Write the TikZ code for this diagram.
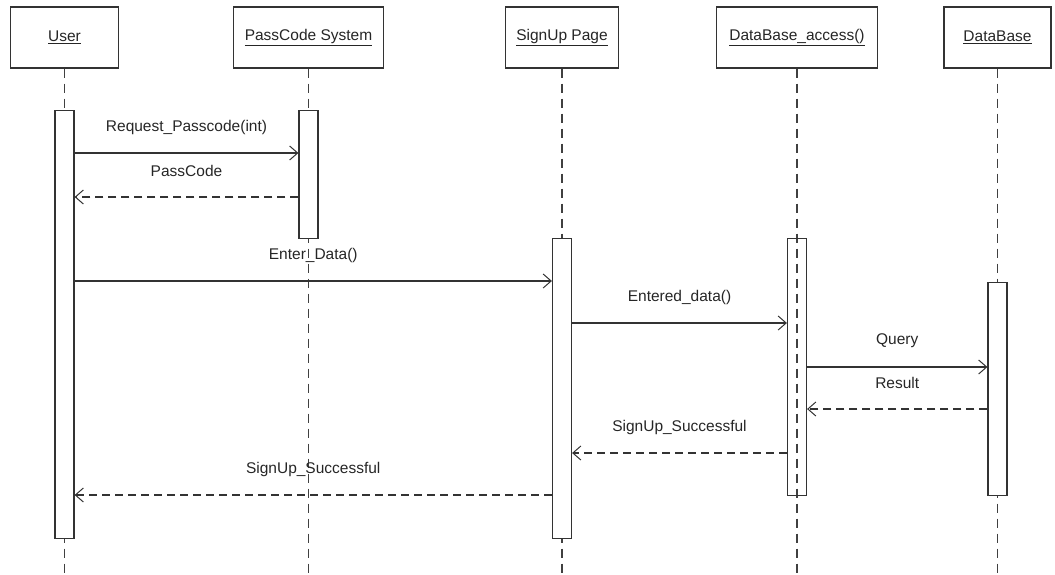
\documentclass[tikz,border=0pt]{standalone}
\usepackage{fontspec}
\setmainfont{Liberation Sans}
\usetikzlibrary{arrows.meta}
\begin{document}
\begin{tikzpicture}[x=1pt,y=-1pt,
  every node/.style={font=\fontsize{15.5}{18}\selectfont, text=black!85},
  obj/.style={draw=black!80, line width=1.3pt, fill=white, minimum height=61pt, inner sep=0pt},
  lifeline/.style={draw=black!75, line width=1.3pt, dash pattern=on 9pt off 6pt},
  act/.style={draw=black!80, line width=1.2pt, fill=white, minimum width=19pt, inner sep=0pt, anchor=north},
  call/.style={draw=black!80, line width=1.2pt, -{Straight Barb[length=8pt,width=14pt,line width=1pt]}},
  reply/.style={call, dash pattern=on 8pt off 5pt},
  lbl/.style={midway, yshift=26pt}
]
\useasboundingbox (0,0) rectangle (1055,574);

% object headers
\node[obj, minimum width=108pt] (user) at (64.5,37.5) {\underline{User}};
\node[obj, minimum width=150pt] (pass) at (308.5,37.5) {\underline{PassCode System}};
\node[obj, minimum width=113pt] (sign) at (562,37.5) {\underline{SignUp Page}};
\node[obj, minimum width=161pt] (dba) at (797,37.5) {\underline{DataBase\_access()}};
\node[obj, minimum width=107pt] (db) at (997.5,37.5) {\underline{DataBase}};

% lifelines
\foreach \o in {user,pass,sign,dba,db}{
  \coordinate (\o End) at (\o.south |- 0,574);
  \draw[lifeline] (\o.south) -- (\o End);
}

% activation bars
\node[act, minimum height=428pt] (uA) at (user.south |- 0,110) {};
\node[act, minimum height=128pt] (pA) at (pass.south |- 0,110) {};
\node[act, minimum height=300pt] (sA) at (sign.south |- 0,238) {};
\node[act, minimum height=257pt, fill=none] (dA) at (dba.south |- 0,238) {};
\node[act, minimum height=213pt] (bA) at (db.south |- 0,282) {};

% messages
\draw[call] (uA.east |- 0,153) -- (pA.west |- 0,153) node[lbl] {Request\_Passcode(int)};
\draw[reply] (pA.west |- 0,197) -- (uA.east |- 0,197) node[lbl] {PassCode};
\draw[call] (uA.east |- 0,281) -- (sA.west |- 0,281) node[lbl] {Enter\_Data()};
\draw[call] (sA.east |- 0,323) -- (dA.west |- 0,323) node[lbl] {Entered\_data()};
\draw[call] (dA.east |- 0,367) -- (bA.west |- 0,367) node[lbl] {Query};
\draw[reply] (bA.west |- 0,409) -- (dA.east |- 0,409) node[lbl] {Result};
\draw[reply] (dA.west |- 0,453) -- (sA.east |- 0,453) node[lbl] {SignUp\_Successful};
\draw[reply] (sA.west |- 0,495) -- (uA.east |- 0,495) node[lbl] {SignUp\_Successful};
\end{tikzpicture}
\end{document}
